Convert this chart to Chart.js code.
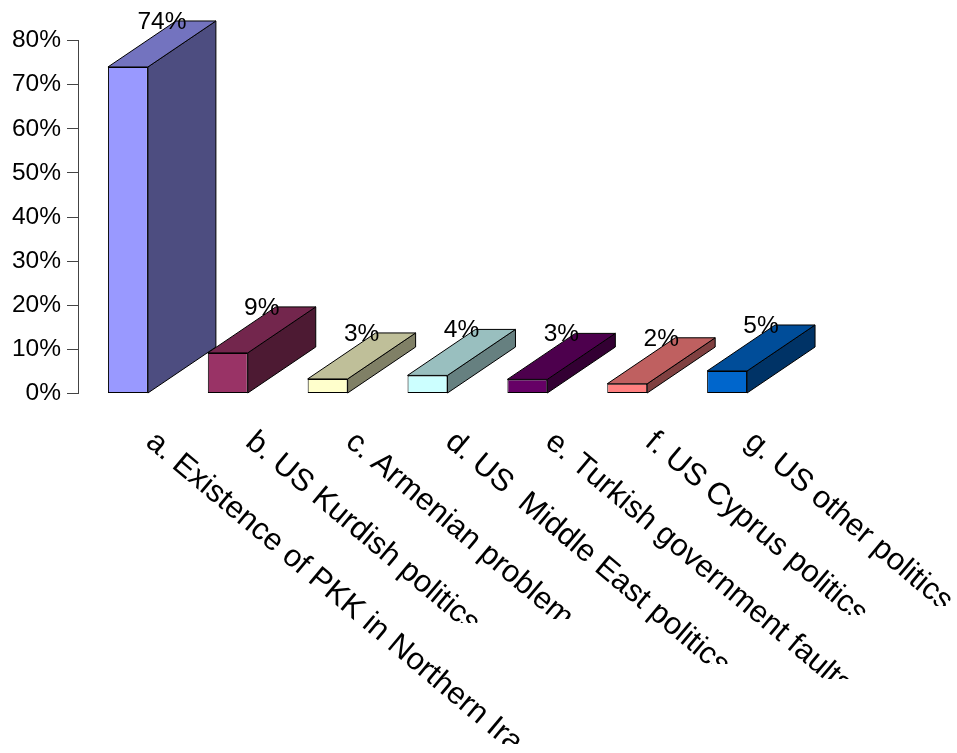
<!DOCTYPE html>
<html>
<head>
<meta charset="utf-8">
<title>Chart</title>
<script src="https://cdn.jsdelivr.net/npm/chart.js@4"></script>
<style>
    html, body { margin: 0; padding: 0; background: #fff; }
    canvas { display: block; }
</style>
</head>
<body>
<canvas id="chart" width="957" height="753"></canvas>
<script>
const categories = [
    "a. Existence of PKK in Northern Iraq",
    "b. US Kurdish politics",
    "c. Armenian problem",
    "d. US  Middle East politics",
    "e. Turkish government faults",
    "f. US Cyprus politics",
    "g. US other politics"
];
const values = [74, 9.2, 3.3, 4.1, 3.2, 2.2, 5.1];
const valueLabels = ["74%", "9%", "3%", "4%", "3%", "2%", "5%"];
const frontColors = ["#9999FF", "#993366", "#FFFFCC", "#CCFFFF", "#660066", "#FF8080", "#0066CC"];
const topColors = ["#7373BF", "#73264D", "#BFBF99", "#99BFBF", "#4D004D", "#BF6060", "#004D99"];
const sideColors = ["#4D4D80", "#4D1A33", "#808066", "#668080", "#330033", "#804040", "#003366"];

// the long labels are cut off at the bottom in the original picture
const labelClipY = [744, 623, 619, 664, 679, 615, 606];

const depthX = 68;
const depthY = 46;
const FONT = '"Liberation Sans", Arial, sans-serif';

function drawFace(ctx, points, color) {
    ctx.beginPath();
    ctx.moveTo(points[0][0], points[0][1]);
    for (let i = 1; i < points.length; i++) {
        ctx.lineTo(points[i][0], points[i][1]);
    }
    ctx.closePath();
    ctx.fillStyle = color;
    ctx.fill();
    ctx.lineWidth = 1;
    ctx.strokeStyle = "#000";
    ctx.stroke();
}

const bar3d = {
    id: "bar3d",
    // side and top faces go under the front face chart.js draws
    beforeDatasetsDraw(chart) {
        const ctx = chart.ctx;
        chart.getDatasetMeta(0).data.forEach((bar, i) => {
            const right = bar.x + bar.width / 2;
            const left = bar.x - bar.width / 2;
            drawFace(ctx, [
                [right, bar.y], [right + depthX, bar.y - depthY],
                [right + depthX, bar.base - depthY], [right, bar.base]
            ], sideColors[i]);
            drawFace(ctx, [
                [left, bar.y], [left + depthX, bar.y - depthY],
                [right + depthX, bar.y - depthY], [right, bar.y]
            ], topColors[i]);
        });
    },
    afterDatasetsDraw(chart) {
        const ctx = chart.ctx;
        ctx.save();
        ctx.font = "24.5px " + FONT;
        ctx.fillStyle = "#000";
        ctx.textAlign = "center";
        ctx.textBaseline = "middle";
        chart.getDatasetMeta(0).data.forEach((bar, i) => {
            ctx.fillText(valueLabels[i], bar.x + depthX / 2, bar.y - depthY + 1);
        });
        ctx.restore();
    },
    // category labels run downward to the right, which the axis can't do by itself
    afterDraw(chart) {
        const ctx = chart.ctx;
        const xScale = chart.scales.x;
        categories.forEach((label, i) => {
            ctx.save();
            ctx.beginPath();
            ctx.rect(0, 0, chart.width, labelClipY[i]);
            ctx.clip();
            ctx.translate(xScale.getPixelForValue(i) + 22, 438);
            ctx.rotate(40 * Math.PI / 180);
            ctx.font = "31px " + FONT;
            ctx.fillStyle = "#000";
            ctx.textAlign = "left";
            ctx.textBaseline = "middle";
            ctx.fillText(label, 0, 0);
            ctx.restore();
        });
    }
};

new Chart(document.getElementById("chart").getContext("2d"), {
    type: "bar",
    data: {
        labels: categories,
        datasets: [{
            data: values,
            backgroundColor: frontColors,
            borderColor: "#000",
            borderWidth: 1,
            borderSkipped: false,
            barPercentage: 0.4,
            categoryPercentage: 1
        }]
    },
    options: {
        responsive: false,
        animation: false,
        layout: { padding: { top: 40.5, right: 180, left: 0, bottom: 0 } },
        plugins: {
            legend: { display: false },
            title: { display: false },
            tooltip: { enabled: false }
        },
        scales: {
            x: {
                grid: { display: false },
                border: { display: false },
                ticks: { display: false },
                afterFit(scale) { scale.height = 359.5; }
            },
            y: {
                min: 0,
                max: 80,
                grid: { drawOnChartArea: false, tickLength: 11, color: "#444" },
                border: { color: "#444" },
                ticks: {
                    stepSize: 10,
                    padding: 6,
                    color: "#000",
                    font: { family: FONT, size: 24.5 },
                    callback: v => v + "%"
                },
                afterFit(scale) { scale.width = 78; }
            }
        }
    },
    plugins: [bar3d]
});
</script>
</body>
</html>
